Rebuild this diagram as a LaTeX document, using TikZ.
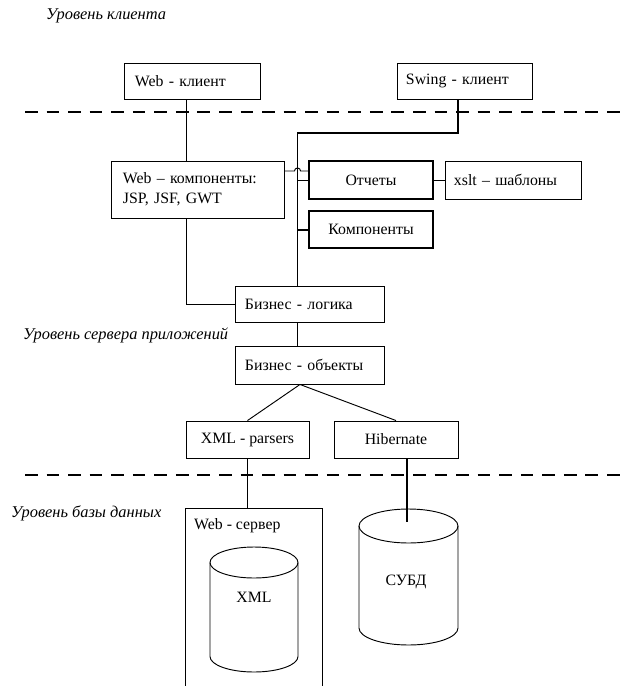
\documentclass[tikz,border=0pt]{standalone}
\usepackage{fontspec}
\setmainfont{Liberation Serif}
\usetikzlibrary{positioning}

\tikzset{
  blok/.style={draw,line width=0.8pt,inner sep=0pt,font=\fontsize{13.5}{17}\selectfont},
  lblok/.style={blok,align=left,inner xsep=#1},
  tolst/.style={line width=1.7pt},
  svyaz/.style={line width=0.8pt},
  urov/.style={anchor=west,inner sep=0pt,font=\fontsize{14}{16}\selectfont\itshape},
  granica/.style={line width=2.5pt,dash pattern=on 10.8pt off 7.6pt},
  baza/.style={line width=0.8pt}
}

\begin{document}
\begin{tikzpicture}[x=0.03cm,y=-0.03cm]
  \clip (0,0) rectangle (623,686);
  % urovni
  \node[urov] (lvcl) at (46,16) {Уровень клиента};
  \node[urov] (lvsrv) at (23,335) {Уровень сервера приложений};
  \node[urov] (lvdb) at (11,513) {Уровень базы данных};
  \draw[granica] (25,112) -- (623,112);
  \draw[granica] (25,475) -- (623,475);
  % klienty
  \node[lblok=0.33cm,text width=3.42cm,minimum height=1.08cm] (wcl) at (192,81) {Web - клиент};
  \node[lblok=0.27cm,text width=3.51cm,minimum height=1.08cm] (swcl) at (464.5,81) {Swing - клиент};
  % server prilozhenij
  \node[lblok=0.36cm,text width=4.47cm,minimum height=1.71cm] (webcomp) at (197.5,189.5)
    {Web -- компоненты:\\JSP, JSF, GWT};
  \node[blok,tolst,minimum width=3.72cm,minimum height=1.14cm] (otch) at (371,180) {Отчеты};
  \node[lblok=0.27cm,text width=3.54cm,minimum height=1.14cm] (xslt) at (513,180) {xslt -- шаблоны};
  \node[blok,tolst,minimum width=3.72cm,minimum height=1.11cm] (komp) at (371,229.5) {Компоненты};
  \node[lblok=0.3cm,text width=3.87cm,minimum height=1.08cm] (blog) at (309.5,304) {Бизнес - логика};
  \node[lblok=0.3cm,text width=3.87cm,minimum height=1.14cm] (bobj) at (309.5,365) {Бизнес - объекты};
  \node[blok,minimum width=3.69cm,minimum height=1.11cm] (xmlp) at (247.5,439.5) {XML - parsers};
  \node[blok,minimum width=3.72cm,minimum height=1.11cm] (hib) at (396,439.5) {Hibernate};
  % baza dannyh
  \node[blok,minimum width=4.11cm,minimum height=6.36cm] (wsrv) at (253.5,614) {};
  \node[urov,font=\fontsize{13.5}{15}\selectfont] (wsrvt) at (194,526) {Web - сервер};
  \draw[baza] (254,562.5) ellipse [x radius=1.32cm,y radius=0.465cm];
  \draw[baza] (210,562.5) -- (210,656.5)
    arc[start angle=180,end angle=360,x radius=1.32cm,y radius=0.465cm] -- (298,562.5);
  \draw[baza] (408.5,526) ellipse [x radius=1.485cm,y radius=0.51cm];
  \draw[baza] (359,526) -- (359,628)
    arc[start angle=180,end angle=360,x radius=1.485cm,y radius=0.51cm] -- (458,526);
  \node[blok,draw=none] (xmlt) at (254,597) {XML};
  \node[blok,draw=none] (subdt) at (406,582) {СУБД};
  % svyazi
  \coordinate (trunk) at (297,133);
  \coordinate (hop) at (297,171);
  \coordinate (dbin) at (407,522);
  \draw[svyaz] (wcl.south) ++(-6,0) coordinate (w1) -- (w1 |- webcomp.north);
  \draw[line width=1.3pt] (swcl.south) ++(-6.5,0) coordinate (s1) |- (trunk);
  \draw[svyaz] (trunk) -- (trunk |- blog.north);
  \draw[svyaz] (webcomp.east |- hop) -- ++(10,0)
    arc[start angle=180,end angle=0,radius=2.6pt] -- (otch.west |- hop);
  \draw[svyaz] (otch.west -| trunk) -- (otch.west);
  \draw[tolst] (komp.west -| trunk) -- (komp.west);
  \draw[svyaz] (otch.east) -- (xslt.west);
  \draw[svyaz] (webcomp.south) ++(-11.5,0) coordinate (w2) |- (blog.west);
  \draw[svyaz] (blog.south -| trunk) -- (bobj.north -| trunk);
  \draw[svyaz] (bobj.south) ++(-9.5,0) coordinate (apex) -- (xmlp.north);
  \draw[svyaz] (apex) -- (hib.north);
  \draw[svyaz] (xmlp.south) -- (xmlp.south |- wsrv.north);
  \draw[tolst] (dbin |- hib.south) -- (dbin);
\end{tikzpicture}
\end{document}
